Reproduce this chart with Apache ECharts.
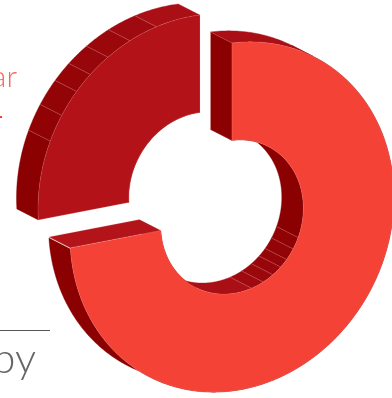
<!DOCTYPE html>
<html>
<head>
<meta charset="utf-8">
<style>html,body{margin:0;padding:0;background:#fff;overflow:hidden}#chart{width:392px;height:398px}</style>
<script src="https://cdn.jsdelivr.net/npm/echarts@6/dist/echarts.min.js"></script>
</head>
<body>
<div id="chart"></div>
<script>
// Slice shares of the ring, clockwise from twelve o'clock
const sliceNames = ['Main share', 'Other share'];
const sliceValues = [74, 26];
const faceColors = ['#f44336', '#b31318'];
// Side walls are shaded in bands; the band edges are wall-facing angles in degrees
const bandEdges = [60, 106, 116, 125, 133, 140, 149, 158];
const bandColors = ['#8b0000', '#aa0f15', '#9e0a0f', '#9a080c', '#97060a', '#950508', '#930406', '#900204', '#8b0000'];

const shearedRing = { cx: 232, cy: 217, ax: 162, bx: -20, ay: 174, inner: 0.44 };
const extrude = { x: -21.5, y: -11 };
const explode = [{ x: 0, y: 0 }, { x: -32, y: -28 }];
const capColor = '#b3141a';
const sideColor = '#8b0000';
const edgeLine = 'rgba(255,190,190,0.35)';

const rad = d => d * Math.PI / 180;
function project(deg, r, depth, off) {
  const c = Math.cos(rad(deg)), s = Math.sin(rad(deg));
  return [
    shearedRing.cx + off.x + r * shearedRing.ax * c + depth * extrude.x,
    shearedRing.cy + off.y + r * (shearedRing.bx * c - shearedRing.ay * s) + depth * extrude.y
  ];
}
function arc(from, to, r, depth, off) {
  const pts = [], n = Math.max(2, Math.ceil(Math.abs(to - from) * 2));
  for (let i = 0; i <= n; i++) pts.push(project(from + (to - from) * i / n, r, depth, off));
  return pts;
}
const poly = (points, fill, stroke, lw) => ({
  type: 'polygon', shape: { points },
  style: { fill, stroke: stroke || fill, lineWidth: lw === undefined ? 0.4 : lw }
});
const norm = d => ((d % 360) + 360) % 360;
function bandOf(facing) {
  let i = 0;
  while (i < bandEdges.length && norm(facing) >= bandEdges[i]) i++;
  return i;
}
// One shaded wall along an arc, split at the band edges, with a pale seam at each split
function wall(from, to, r, off, shift, out) {
  const seams = [];
  let a = from, band = bandOf(a + shift - 0.01);
  for (let d = from - 0.5; d >= to - 0.001; d -= 0.5) {
    const b = bandOf(d + shift - 0.01);
    if (b !== band || d - 0.5 < to) {
      const front = arc(a, d, r, 0, off), back = arc(d, a, r, 1, off);
      out.push(poly(front.concat(back), bandColors[band]));
      if (b !== band) seams.push(d);
      a = d; band = b;
    }
  }
  seams.forEach(d => {
    const f = norm(d + shift);
    if (f < 100 || f > 160) return;
    const p = project(d, r, 0, off), q = project(d, r, 1, off);
    out.push({ type: 'line', shape: { x1: p[0], y1: p[1], x2: q[0], y2: q[1] },
      style: { stroke: edgeLine, lineWidth: 0.7 } });
  });
}
function slice(from, to, off, color, isMain) {
  const kids = [], rIn = shearedRing.inner;
  const cut = (deg, fill, stroke) => poly([project(deg, 1, 0, off), project(deg, rIn, 0, off), project(deg, rIn, 1, off), project(deg, 1, 1, off)], fill, stroke, 0.5);
  wall(from, to, rIn, off, 180, kids);
  wall(from, to, 1, off, 0, kids);
  // Cut ends sit above the curved walls, the front face above everything
  if (isMain) {
    kids.push(cut(from, sideColor, edgeLine));
    kids.push(cut(to, capColor, edgeLine));
  }
  kids.push(poly(arc(from, to, 1, 0, off).concat(arc(to, from, rIn, 0, off)), color, edgeLine, 0.5));
  return kids;
}

const total = sliceValues.reduce((a, b) => a + b, 0);
const chart = echarts.init(document.getElementById('chart'), null, { renderer: 'canvas' });
chart.setOption({
  animation: false,
  backgroundColor: '#fff',
  series: [{
    type: 'custom',
    coordinateSystem: 'none',
    data: sliceNames.map((name, i) => ({ name, value: sliceValues[i] })).reverse(),
    renderItem(params, api) {
      const idx = sliceValues.length - 1 - params.dataIndex;
      const before = sliceValues.slice(0, idx).reduce((a, b) => a + b, 0);
      const from = 90 - before / total * 360;
      const to = from - api.value(0) / total * 360;
      return { type: 'group', children: slice(from, to, explode[idx], faceColors[idx], idx === 0) };
    }
  }],
  graphic: [
    { type: 'text', style: { x: 17, y: 92, text: 'ar', textAlign: 'right', textVerticalAlign: 'bottom', fill: '#f6685e', font: '300 30px Lato' } },
    { type: 'rect', shape: { x: 0, y: 116, width: 2, height: 2 }, style: { fill: '#f44336' } },
    { type: 'line', shape: { x1: 0, y1: 330.5, x2: 50, y2: 330.5 }, style: { stroke: '#555', lineWidth: 1 } },
    { type: 'text', style: { x: 36, y: 380, text: 'by', textAlign: 'right', textVerticalAlign: 'bottom', fill: '#666', font: '300 42px Lato' } }
  ]
});
</script>
</body>
</html>
